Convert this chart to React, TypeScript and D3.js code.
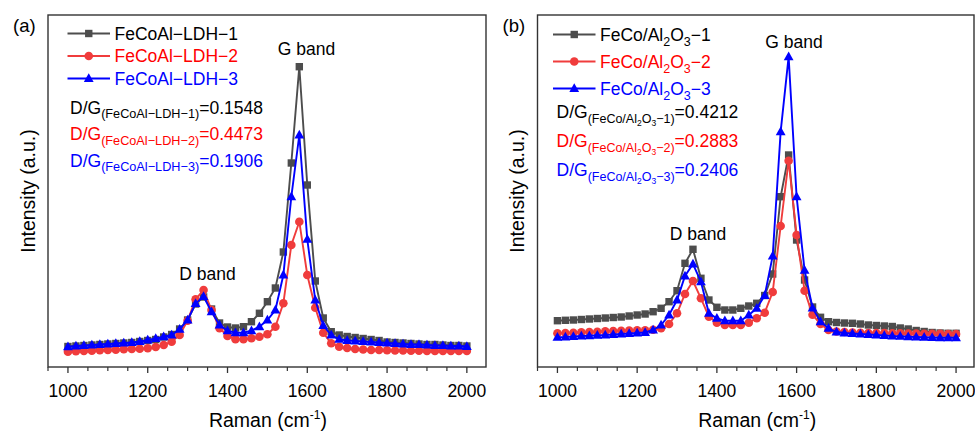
import React from "react";
import * as d3 from "d3";

const RAMAN = [1000, 1020, 1040, 1060, 1080, 1100, 1120, 1140, 1160, 1180, 1200, 1220, 1240, 1260, 1280, 1300, 1320, 1340, 1360, 1380, 1400, 1420, 1440, 1460, 1480, 1500, 1520, 1540, 1560, 1580, 1600, 1620, 1640, 1660, 1680, 1700, 1720, 1740, 1760, 1780, 1800, 1820, 1840, 1860, 1880, 1900, 1920, 1940, 1960, 1980, 2000];

const A_LDH1 = [20.5, 21, 21.5, 22, 22.5, 23, 23.5, 24, 24.5, 25.5, 26.5, 27.5, 30, 32.5, 38, 47, 63, 70, 58, 44, 40, 39, 40.3, 45.3, 53.7, 65.3, 79, 115, 204, 300.3, 182, 86, 49, 35.3, 32, 30.5, 29.5, 28.5, 27.5, 26.5, 25, 24.5, 24, 23.5, 23, 22.5, 22.5, 22, 21.5, 21.5, 21];
const A_LDH2 = [15.3, 15.7, 16, 16.3, 16.7, 17, 17.3, 17.7, 18, 18.3, 18.7, 20, 22, 25.3, 32, 46.3, 67.7, 77, 57, 38.7, 31, 27.7, 27.7, 28.7, 30.3, 32.7, 40.3, 63.7, 122, 145.3, 92, 59.3, 34.3, 23.7, 20.3, 19, 18, 17.5, 17, 17, 16.7, 16.5, 16.5, 16.3, 16.3, 16, 16, 16, 16, 16, 16];
const A_LDH3 = [20.3, 21, 21.5, 22, 22.5, 23, 23.5, 24, 24.5, 25.5, 27, 28.5, 30.3, 32, 37.7, 47, 63.5, 70.5, 55.3, 42, 36.3, 34.3, 34.3, 36.3, 40.3, 47, 57, 92, 170.3, 232, 127.7, 67, 41.5, 32, 27.7, 26.5, 26, 25.5, 25, 24.5, 24, 23.5, 23, 22.5, 22.5, 22, 21.5, 21.5, 21, 21, 20.5];

const B_AL1 = [46.3, 46.7, 47, 47.5, 48, 48.5, 49, 49.5, 50, 51, 52, 53, 55.3, 58.7, 65.3, 76.3, 103.7, 117.7, 88.7, 67, 59.7, 57, 57, 58.7, 61, 63.7, 71.5, 93, 170.3, 212, 127, 87, 60, 49.7, 45.3, 44.5, 44, 43.7, 43, 42, 41.5, 41, 40.5, 39, 38, 36.5, 35.5, 34.5, 34, 33.7, 33.7];
const B_AL2 = [33.7, 34, 34.3, 34.7, 35, 35.3, 35.7, 36, 36.3, 36.5, 36.7, 36.7, 37.3, 38.7, 43, 53.7, 73, 86, 68.7, 50.3, 44.3, 42, 42, 42, 44.3, 48.7, 54.3, 75, 141, 206.3, 132, 76.3, 52.3, 43, 37, 35.5, 35, 34.5, 34.3, 34, 34, 34, 33.8, 33.7, 33.5, 33.5, 33.3, 33.3, 33.2, 33, 33];
const B_AL3 = [29.7, 30, 30.5, 31, 31.3, 31.7, 32, 32.5, 33, 33.5, 34, 34.5, 37, 42, 52, 67, 91, 103, 85.3, 53.7, 48.7, 46.3, 46.3, 46.3, 52, 58.7, 71.5, 111, 235.3, 310.3, 170.3, 96.7, 59, 45.3, 38.7, 35, 34, 33.5, 33, 32.5, 32, 31.5, 31, 30.7, 30.3, 30, 29.7, 29.5, 29.3, 29.3, 29.3];

const X_TICKS = [1000, 1200, 1400, 1600, 1800, 2000];
const X_MINOR = [950, 1050, 1100, 1150, 1250, 1300, 1350, 1450, 1500, 1550, 1650, 1700, 1750, 1850, 1900, 1950, 2050];

const FONT = "'Liberation Sans', Arial, Helvetica, sans-serif";
const GRAY = "#4d4d4d";
const RED = "#f03c3c";
const BLUE = "#0000ff";

const Y_TOP = 15;
const Y_BOT = 367;

type Marker = "square" | "circle" | "triangle";

function MarkerShape({ type, x, y, color }: { type: Marker; x: number; y: number; color: string }) {
  if (type === "square") return <rect x={x - 3.7} y={y - 3.7} width={7.4} height={7.4} fill={color} />;
  if (type === "circle") return <circle cx={x} cy={y} r={4.3} fill={color} />;
  return <path d={`M${x},${y - 5.3}L${x + 4.9},${y + 3.5}L${x - 4.9},${y + 3.5}Z`} fill={color} />;
}

function Panel({ left, right, domainMax, letter, series, legend, ratios, legendRow, legendStart, legendX, ratioX, ratioStart, ratioRow, gx, gy, dx, dy }: any) {
  const x = d3.scaleLinear().domain([950, domainMax]).range([left, right]);
  const y = d3.scaleLinear().domain([0, Y_BOT - Y_TOP]).range([Y_BOT, Y_TOP]);
  const line = d3.line<number>().x((_, i) => x(RAMAN[i])).y((d) => y(d));
  const centerX = (x(1000) + x(2000)) / 2 + 0.5;
  const lx0 = legendX;
  const lx1 = lx0 + 42.5;
  return (
    <g fontFamily={FONT}>
      <text x={left - 35} y={32} fontSize={18.5}>{letter}</text>
      {series.map((s: any, k: number) => (
        <g key={k}>
          <path d={line(s.values) || ""} fill="none" stroke={s.color} strokeWidth={1.9} />
          {s.values.map((v: number, i: number) => (
            <MarkerShape key={i} type={s.marker} x={x(RAMAN[i])} y={y(v)} color={s.color} />
          ))}
        </g>
      ))}
      <rect x={left} y={Y_TOP} width={right - left} height={Y_BOT - Y_TOP} fill="none" stroke="#333" strokeWidth={1.4} />
      {X_MINOR.filter((t) => t <= domainMax).map((t) => (
        <line key={t} x1={x(t)} x2={x(t)} y1={Y_BOT} y2={Y_BOT + 4} stroke="#333" strokeWidth={1.2} />
      ))}
      {X_TICKS.map((t) => (
        <g key={t}>
          <line x1={x(t)} x2={x(t)} y1={Y_BOT} y2={Y_BOT + 6} stroke="#333" strokeWidth={1.3} />
          <text x={x(t)} y={397} fontSize={17.5} textAnchor="middle">{t}</text>
        </g>
      ))}
      <text x={centerX} y={427} fontSize={19.5} textAnchor="middle">
        Raman (cm<tspan fontSize={12} dy={-8}>-1</tspan><tspan dy={8}>)</tspan>
      </text>
      <text transform={`translate(${left - 13.5},${(Y_TOP + Y_BOT) / 2}) rotate(-90)`} fontSize={19.5} textAnchor="middle">
        Intensity (a.u.)
      </text>
      {series.map((s: any, k: number) => {
        const cy = legendStart + k * legendRow;
        return (
          <g key={k}>
            <line x1={lx0} x2={lx1} y1={cy} y2={cy} stroke={s.color} strokeWidth={1.9} />
            <MarkerShape type={s.marker} x={(lx0 + lx1) / 2} y={cy} color={s.color} />
            <text x={lx1 + 4.5} y={cy + 6} fontSize={17.5} fill={s.textColor}>{legend[k]}</text>
          </g>
        );
      })}
      {ratios.map((r: any, k: number) => (
        <text key={k} x={ratioX} y={ratioStart + k * ratioRow} fontSize={17.5} fill={series[k].textColor}>
          {r}
        </text>
      ))}
      <text x={gx} y={gy} fontSize={17.5} textAnchor="middle">G band</text>
      <text x={dx} y={dy} fontSize={17.5} textAnchor="middle">D band</text>
    </g>
  );
}

const MINUS = "\u2212";

function ldhRatio(n: number, val: string) {
  return (
    <>
      D/G<tspan fontSize={12.7} dy={4.5}>(FeCoAl{MINUS}LDH{MINUS}{n})</tspan>
      <tspan dy={-4.5}>={val}</tspan>
    </>
  );
}

function alLegend(n: number) {
  return (
    <>
      FeCo/Al<tspan fontSize={12.5} dy={5}>2</tspan>
      <tspan dy={-5}>O</tspan>
      <tspan fontSize={12.5} dy={5}>3</tspan>
      <tspan dy={-5}>{MINUS}{n}</tspan>
    </>
  );
}

function alRatio(n: number, val: string) {
  return (
    <>
      D/G<tspan fontSize={12.5} dy={5}>(FeCo/Al<tspan fontSize={8.5} dy={3}>2</tspan><tspan dy={-3}>O</tspan><tspan fontSize={8.5} dy={3}>3</tspan><tspan dy={-3}>{MINUS}{n})</tspan></tspan>
      <tspan dy={-5}>={val}</tspan>
    </>
  );
}

export default function App() {
  const seriesA = [
    { values: A_LDH1, color: GRAY, marker: "square", textColor: "#000" },
    { values: A_LDH2, color: RED, marker: "circle", textColor: "#ff0000" },
    { values: A_LDH3, color: BLUE, marker: "triangle", textColor: "#0000ff" },
  ];
  const seriesB = [
    { values: B_AL1, color: GRAY, marker: "square", textColor: "#000" },
    { values: B_AL2, color: RED, marker: "circle", textColor: "#ff0000" },
    { values: B_AL3, color: BLUE, marker: "triangle", textColor: "#0000ff" },
  ];
  return (
    <svg width={975} height={432} style={{ position: "absolute", left: 0, top: 0, background: "#fff" }}>
      <rect width={975} height={432} fill="#fff" />
      <Panel
        left={48}
        right={486}
        domainMax={2048}
        letter="(a)"
        series={seriesA}
        legend={[`FeCoAl${MINUS}LDH${MINUS}1`, `FeCoAl${MINUS}LDH${MINUS}2`, `FeCoAl${MINUS}LDH${MINUS}3`]}
        ratios={[ldhRatio(1, "0.1548"), ldhRatio(2, "0.4473"), ldhRatio(3, "0.1906")]}
        legendX={67.5}
        ratioX={70}
        legendStart={33.5}
        legendRow={22.5}
        ratioStart={113.5}
        ratioRow={26.7}
        gx={306.5}
        gy={55}
        dx={207.5}
        dy={280}
      />
      <Panel
        left={537.5}
        right={974}
        domainMax={2045}
        letter="(b)"
        series={seriesB}
        legend={[alLegend(1), alLegend(2), alLegend(3)]}
        ratios={[alRatio(1, "0.4212"), alRatio(2, "0.2883"), alRatio(3, "0.2406")]}
        legendX={553}
        ratioX={556.5}
        legendStart={34.5}
        legendRow={27}
        ratioStart={117.5}
        ratioRow={29.2}
        gx={794}
        gy={48}
        dx={698}
        dy={240}
      />
    </svg>
  );
}
